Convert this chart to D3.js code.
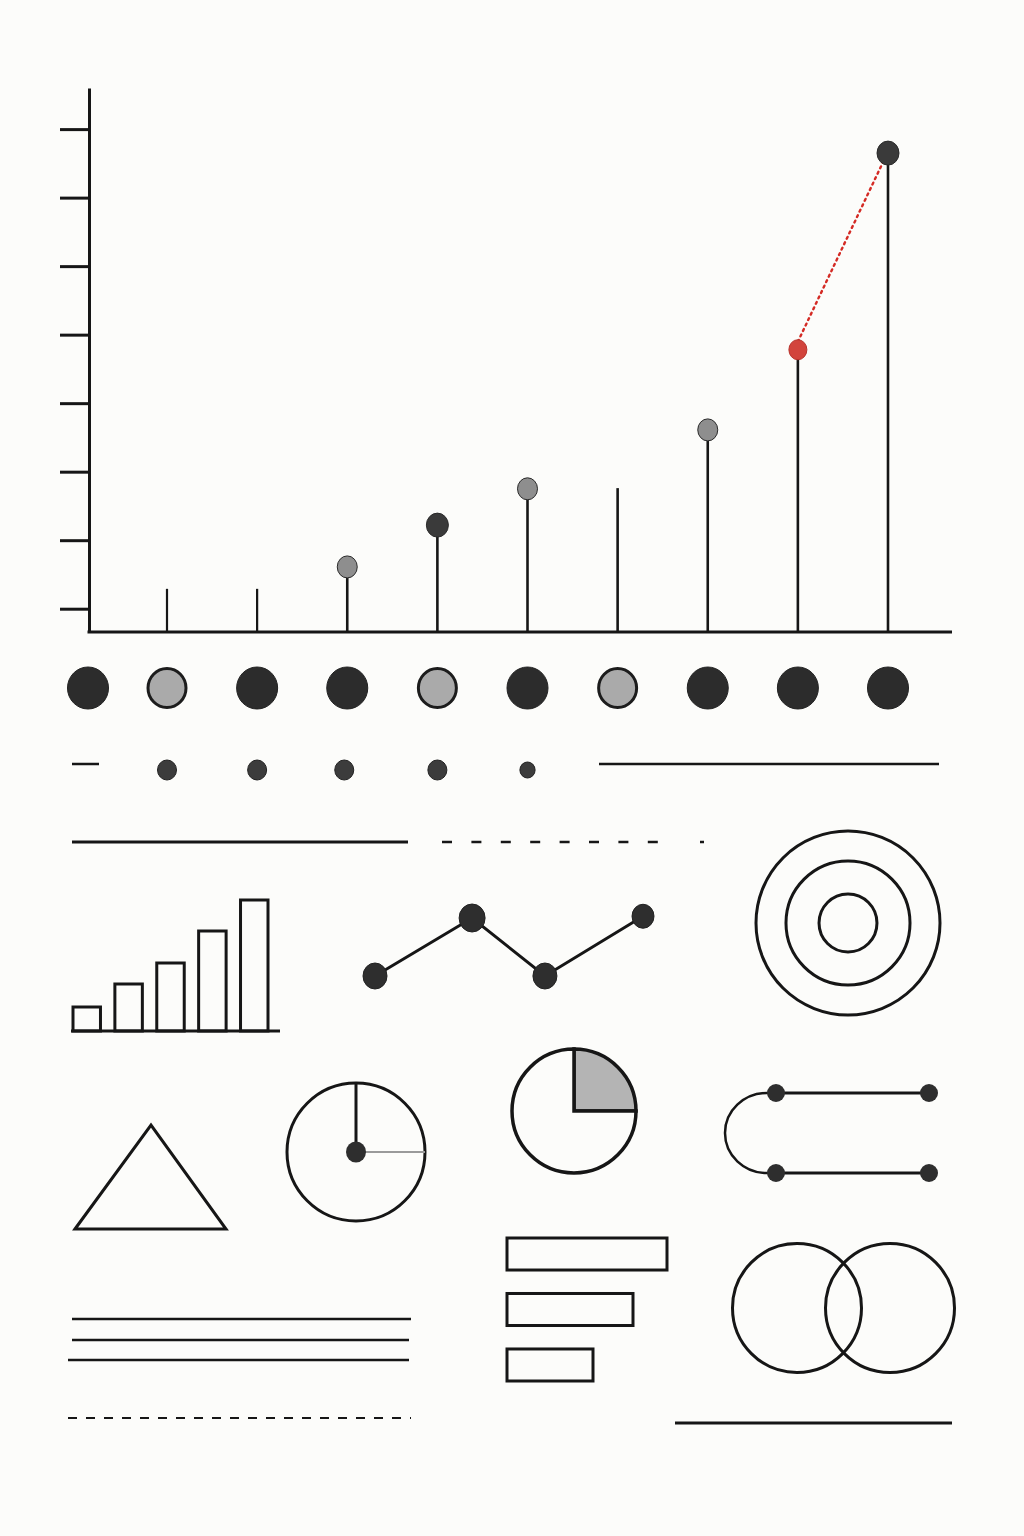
<!DOCTYPE html>
<html>
<head>
<meta charset="utf-8">
<script src="https://cdn.jsdelivr.net/npm/d3@7"></script>
<style>
  html, body { margin: 0; padding: 0; background: #fcfcfa; }
  svg { display: block; }
</style>
</head>
<body>
<svg id="chart" width="1024" height="1536"></svg>
<script>
// ---------------- DATA ----------------
const stemCategories = ["A", "B", "C", "D", "E", "F", "G", "H", "I"];
const stemValues = [1.29, 1.29, 1.61, 2.22, 2.75, 2.76, 3.61, 4.78, 7.65];
const stemMarkers = ["none", "none", "gray", "dark", "gray", "none", "gray", "red", "dark"];
const yTickValues = [1, 2, 3, 4, 5, 6, 7, 8];

const tokenCategories = ["axis", "A", "B", "C", "D", "E", "F", "G", "H", "I"];
const tokenKinds = ["dark", "gray", "dark", "dark", "gray", "dark", "gray", "dark", "dark", "dark"];

const smallDotCategories = ["A", "B", "C", "D", "E"];
const smallDotSizes = [10, 10, 10, 10, 8];

const miniBarCategories = ["b1", "b2", "b3", "b4", "b5"];
const miniBarValues = [24, 47, 68, 100, 131];

const miniLineX = [1, 2, 2.75, 3.76];
const miniLineY = [2, 3, 2, 3.03];
const miniLineSizes = [12, 13, 12, 11];

const ringValues = [31.5, 67.4, 100];

const clockHandAngles = [0, 90];
const clockHandKinds = ["main", "minor"];

const pieValues = [25, 75];
const pieKinds = ["gray", "white"];

const hBarCategories = ["h1", "h2", "h3"];
const hBarValues = [160, 126, 86];

const vennCenters = [0, 1];

// ---------------- SETUP ----------------
const svg = d3.select("#chart");
svg.append("rect").attr("width", 1024).attr("height", 1536).attr("fill", "#fcfcfa");
const INK = "#161616";

// ---------------- TOP LOLLIPOP CHART ----------------
const x = d3.scalePoint().domain(stemCategories).range([167, 888]);
const y = d3.scaleLinear().domain([0.66, 8.6]).range([632, 88]);
const axisX = 89;

const yAxis = d3.axisLeft(y).tickValues(yTickValues).tickSize(29).tickSizeOuter(0).tickFormat("");
const gy = svg.append("g").attr("transform", `translate(${axisX},0)`).call(yAxis);
gy.select(".domain").attr("stroke", INK).attr("stroke-width", 3);
gy.selectAll(".tick line").attr("stroke", INK).attr("stroke-width", 3);

svg.append("line")
  .attr("x1", axisX - 1.5).attr("x2", 952)
  .attr("y1", y(0.66)).attr("y2", y(0.66))
  .attr("stroke", INK).attr("stroke-width", 3);

const stems = stemCategories.map((c, i) => ({ c, v: stemValues[i], m: stemMarkers[i] }));

svg.append("g").selectAll("line").data(stems).join("line")
  .attr("x1", d => x(d.c)).attr("x2", d => x(d.c))
  .attr("y1", y(0.66)).attr("y2", d => y(d.v))
  .attr("stroke", INK).attr("stroke-width", (d, i) => i < 2 ? 2.2 : 2.6);

// red dotted connector between last two markers
const redIdx = stemMarkers.indexOf("red");
svg.append("line")
  .attr("x1", x(stemCategories[redIdx])).attr("y1", y(stemValues[redIdx]) - 8)
  .attr("x2", x(stemCategories[redIdx + 1]) - 4).attr("y2", y(stemValues[redIdx + 1]) + 7)
  .attr("stroke", "#d42a24").attr("stroke-width", 2.4)
  .attr("stroke-dasharray", "2 4").attr("stroke-linecap", "round");

const markerFill = { gray: "#8e8e8e", dark: "#3a3a3a", red: "#d2443c" };
const markerR = { gray: 10, dark: 11, red: 9 };
svg.append("g").selectAll("ellipse").data(stems.filter(d => d.m !== "none")).join("ellipse")
  .attr("cx", d => x(d.c)).attr("cy", d => y(d.v))
  .attr("rx", d => markerR[d.m]).attr("ry", d => markerR[d.m] + 1)
  .attr("fill", d => markerFill[d.m])
  .attr("stroke", d => d.m === "red" ? "#b8322b" : "#2a2a2a").attr("stroke-width", 1);

// ---------------- TOKEN ROW ----------------
const tokenX = c => c === "axis" ? axisX - 1 : x(c);
const tokens = tokenCategories.map((c, i) => ({ c, k: tokenKinds[i] }));
svg.append("g").selectAll("ellipse").data(tokens).join("ellipse")
  .attr("cx", d => tokenX(d.c)).attr("cy", 688)
  .attr("rx", d => d.k === "gray" ? 19 : 20.5).attr("ry", d => d.k === "gray" ? 19.5 : 21)
  .attr("fill", d => d.k === "gray" ? "#aaaaaa" : "#2c2c2c")
  .attr("stroke", d => d.k === "gray" ? "#1c1c1c" : "#222")
  .attr("stroke-width", d => d.k === "gray" ? 3 : 1);

// ---------------- SMALL DOT ROW ----------------
svg.append("line").attr("x1", 72).attr("x2", 99).attr("y1", 764).attr("y2", 764)
  .attr("stroke", INK).attr("stroke-width", 2.5);
svg.append("g").selectAll("ellipse").data(smallDotCategories.map((c, i) => ({ c, s: smallDotSizes[i] }))).join("ellipse")
  .attr("cx", d => x(d.c) + (d.c === "C" ? -3 : 0)).attr("cy", 770)
  .attr("rx", d => d.s * 0.95).attr("ry", d => d.s)
  .attr("fill", "#3c3c3c").attr("stroke", "#222").attr("stroke-width", 1);
svg.append("line").attr("x1", 599).attr("x2", 939).attr("y1", 764).attr("y2", 764)
  .attr("stroke", INK).attr("stroke-width", 2.5);

// ---------------- RULE ROW ----------------
svg.append("line").attr("x1", 72).attr("x2", 408).attr("y1", 842).attr("y2", 842)
  .attr("stroke", INK).attr("stroke-width", 3);
svg.append("line").attr("x1", 442).attr("x2", 660).attr("y1", 842).attr("y2", 842)
  .attr("stroke", INK).attr("stroke-width", 2.5).attr("stroke-dasharray", "10 19.4");
svg.append("line").attr("x1", 700).attr("x2", 704).attr("y1", 842).attr("y2", 842)
  .attr("stroke", INK).attr("stroke-width", 2.5);

// ---------------- MINI BAR CHART ----------------
const bx = d3.scaleBand().domain(miniBarCategories).range([73, 268]).paddingInner(0.344).paddingOuter(0);
const by = d3.scaleLinear().domain([0, 131]).range([1031, 900]);
svg.append("g").selectAll("rect").data(miniBarCategories.map((c, i) => ({ c, v: miniBarValues[i] }))).join("rect")
  .attr("x", d => bx(d.c)).attr("y", d => by(d.v))
  .attr("width", bx.bandwidth()).attr("height", d => by(0) - by(d.v))
  .attr("fill", "none").attr("stroke", INK).attr("stroke-width", 3);
svg.append("line").attr("x1", 71).attr("x2", 280).attr("y1", by(0)).attr("y2", by(0))
  .attr("stroke", INK).attr("stroke-width", 3);

// ---------------- MINI LINE CHART ----------------
const lx = d3.scaleLinear().domain([1, 3.76]).range([375, 643]);
const ly = d3.scaleLinear().domain([2, 3]).range([976, 918]);
const linePts = miniLineX.map((v, i) => ({ x: v, y: miniLineY[i], s: miniLineSizes[i] }));
svg.append("path").datum(linePts)
  .attr("d", d3.line().x(d => lx(d.x)).y(d => ly(d.y)))
  .attr("fill", "none").attr("stroke", INK).attr("stroke-width", 3);
svg.append("g").selectAll("ellipse").data(linePts).join("ellipse")
  .attr("cx", d => lx(d.x)).attr("cy", d => ly(d.y))
  .attr("rx", d => d.s).attr("ry", d => d.s + 1)
  .attr("fill", "#2e2e2e").attr("stroke", "#222").attr("stroke-width", 1);

// ---------------- CONCENTRIC RINGS ----------------
const rr = d3.scaleLinear().domain([0, 100]).range([0, 92]);
svg.append("g").attr("transform", "translate(848,923)")
  .selectAll("circle").data(ringValues).join("circle")
  .attr("r", d => rr(d)).attr("fill", "none").attr("stroke", INK).attr("stroke-width", 3);

// ---------------- TRIANGLE ----------------
svg.append("path")
  .attr("d", d3.line()([[75, 1229], [151, 1125], [226, 1229]]) + "Z")
  .attr("fill", "none").attr("stroke", INK).attr("stroke-width", 3).attr("stroke-linejoin", "miter");

// ---------------- CLOCK ----------------
const clockR = 69;
const ang = d3.scaleLinear().domain([0, 360]).range([0, 2 * Math.PI]);
const clock = svg.append("g").attr("transform", "translate(356,1152)");
clock.append("circle").attr("r", clockR).attr("fill", "none").attr("stroke", INK).attr("stroke-width", 3);
clock.selectAll("line.hand").data(clockHandAngles.map((a, i) => ({ a, k: clockHandKinds[i] }))).join("line")
  .attr("class", "hand")
  .attr("x1", 0).attr("y1", 0)
  .attr("x2", d => Math.sin(ang(d.a)) * clockR)
  .attr("y2", d => -Math.cos(ang(d.a)) * clockR)
  .attr("stroke", d => d.k === "main" ? INK : "#9a9a9a")
  .attr("stroke-width", d => d.k === "main" ? 3 : 2);
clock.append("ellipse").attr("rx", 10).attr("ry", 10.5).attr("fill", "#2e2e2e");

// ---------------- PIE ----------------
const pie = d3.pie().sort(null)(pieValues);
const arc = d3.arc().innerRadius(0).outerRadius(62);
svg.append("g").attr("transform", "translate(574,1111)")
  .selectAll("path").data(pie).join("path")
  .attr("d", arc)
  .attr("fill", (d, i) => pieKinds[i] === "gray" ? "#b4b4b4" : "#fcfcfa")
  .attr("stroke", INK).attr("stroke-width", 3.5).attr("stroke-linejoin", "miter");

// ---------------- CONNECTOR ----------------
const conn = svg.append("g");
conn.append("path")
  .attr("d", "M776,1093 L767,1093 A42,40 0 0 0 767,1173 L776,1173")
  .attr("fill", "none").attr("stroke", INK).attr("stroke-width", 2.5);
[1093, 1173].forEach(yy => {
  conn.append("line").attr("x1", 776).attr("x2", 929).attr("y1", yy).attr("y2", yy)
    .attr("stroke", INK).attr("stroke-width", 3);
  [776, 929].forEach(xx => conn.append("circle").attr("cx", xx).attr("cy", yy).attr("r", 9).attr("fill", "#2e2e2e"));
});

// ---------------- HORIZONTAL BARS ----------------
const hy = d3.scaleBand().domain(hBarCategories).range([1238, 1381]).paddingInner(0.423).paddingOuter(0);
const hx = d3.scaleLinear().domain([0, 160]).range([507, 667]);
svg.append("g").selectAll("rect").data(hBarCategories.map((c, i) => ({ c, v: hBarValues[i] }))).join("rect")
  .attr("x", hx(0)).attr("y", d => hy(d.c))
  .attr("width", d => hx(d.v) - hx(0)).attr("height", hy.bandwidth())
  .attr("fill", "none").attr("stroke", INK).attr("stroke-width", 3);

// ---------------- VENN ----------------
const vx = d3.scaleLinear().domain([0, 1]).range([797, 890]);
svg.append("g").selectAll("circle").data(vennCenters).join("circle")
  .attr("cx", d => vx(d)).attr("cy", 1308).attr("r", 64.5)
  .attr("fill", "none").attr("stroke", INK).attr("stroke-width", 3);

// ---------------- BOTTOM RULES ----------------
[[72, 411, 1319], [72, 409, 1340], [68, 409, 1360]].forEach(([a, b, yy]) => {
  svg.append("line").attr("x1", a).attr("x2", b).attr("y1", yy).attr("y2", yy)
    .attr("stroke", INK).attr("stroke-width", 2.5);
});
svg.append("line").attr("x1", 68).attr("x2", 411).attr("y1", 1418).attr("y2", 1418)
  .attr("stroke", INK).attr("stroke-width", 2).attr("stroke-dasharray", "9 9");
svg.append("line").attr("x1", 675).attr("x2", 952).attr("y1", 1423).attr("y2", 1423)
  .attr("stroke", INK).attr("stroke-width", 3);
</script>
</body>
</html>
